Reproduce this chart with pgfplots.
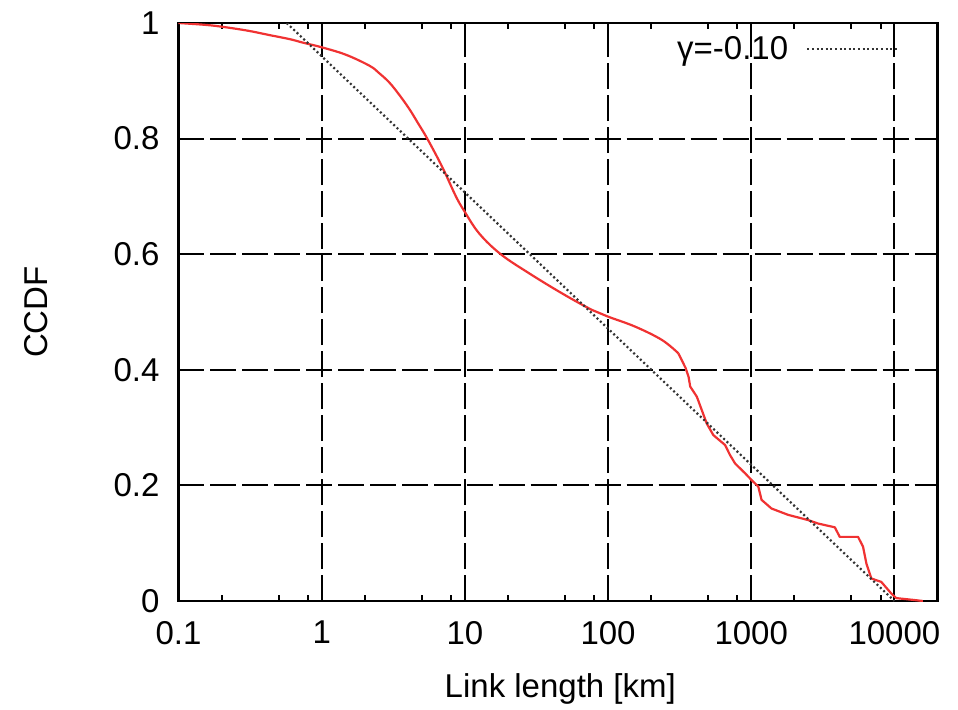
\documentclass[border=0pt]{standalone}
\usepackage{fontspec}
\setmainfont{Liberation Sans}
\usepackage{pgfplots}
\pgfplotsset{compat=1.18}
\definecolor{cdfred}{RGB}{240,50,50}
\begin{document}
\begin{tikzpicture}
\useasboundingbox (-89.25pt,-54pt) rectangle (389.75pt,300.5pt);
\begin{axis}[
  at={(0,0)}, anchor=south west,
  scale only axis, width=379.5pt, height=289pt,
  xmode=log, xmin=0.1, xmax=20000, ymin=0, ymax=1,
  log basis x=10,
  xtick={0.1,1,10,100,1000,10000},
  xticklabels={0.1,1,10,100,1000,10000},
  minor xtick={0.2,0.5,0.8,2,5,8,20,50,80,200,500,800,2000,5000,8000},
  ytick={0,0.2,0.4,0.6,0.8,1},
  yticklabels={0,0.2,0.4,0.6,0.8,1},
  tick pos=both, tick align=inside,
  major tick length=6pt, minor tick length=3pt,
  every tick/.style={black, line width=1pt},
  axis line style={black, line width=1.2pt},
  xmajorgrids, ymajorgrids,
  major grid style={black, line width=1pt, dash pattern=on 13pt off 3pt},
  ticklabel style={font=\fontsize{16.5}{20}\selectfont},
  xticklabel style={yshift=-6.5pt},
  yticklabel style={xshift=-6pt},
  xlabel={Link length [km]},
  ylabel={CCDF},
  label style={font=\fontsize{16.5}{20}\selectfont},
  xlabel style={at={(axis description cs:0.503,0)}, anchor=base, yshift=-48pt, inner sep=0pt},
  ylabel style={at={(axis description cs:-0.1726,0.5)}, anchor=base, rotate=0, inner sep=0pt},
  legend plot pos=right,
  legend cell align=right,
  legend image code/.code={\draw[#1] (0pt,0pt) -- (45pt,0pt);},
  legend style={draw=none, fill=none, at={(0.949,0.955)}, anchor=east, inner sep=0pt,
    column sep=7pt, font=\fontsize{16.5}{20}\selectfont},
]
\addplot[cdfred, line width=1.1pt, line join=round, smooth, tension=0.6, forget plot] coordinates {
(0.1,1.0) (0.15,0.997) (0.195,0.994) (0.3,0.987) (0.434,0.979) (0.6,0.972)
(0.74,0.966) (1.0,0.958) (1.48,0.945) (2.16,0.926) (2.5,0.914)
(2.97,0.897) (3.5,0.875) (4.1,0.851) (4.7,0.827) (5.49,0.799)
(6.98,0.750) (8.66,0.700) (9.89,0.675) (12.58,0.636) (17.8,0.600)
(28.1,0.567) (47.9,0.532) (77.4,0.5035) (100,0.492) (155,0.4746) (238,0.4516)
(310,0.4285)
};
\addplot[cdfred, line width=1.1pt, line join=round, forget plot] coordinates {
(310,0.4285) (349,0.4026) (365,0.388) (375,0.371) (417,0.3535) (452,0.330)
(489,0.307) (544,0.287) (656,0.270) (711,0.2526) (771,0.238) (906,0.221)
(1007,0.209) (1120,0.198) (1181,0.175) (1386,0.160) (1813,0.149) (2500,0.140)
(2933,0.134) (3837,0.1275) (4150,0.111) (5570,0.111) (6040,0.094) (6370,0.065)
(6900,0.039) (8100,0.033) (9510,0.013) (10300,0.005) (13800,0.0017) (15800,0)
};
\addplot[black!80, line width=1.1pt, dash pattern=on 1pt off 1.3pt] coordinates {
(0.57,1.0) (10000,0.0)
};
\addlegendentry{γ=-0.10}
\end{axis}
\end{tikzpicture}
\end{document}
